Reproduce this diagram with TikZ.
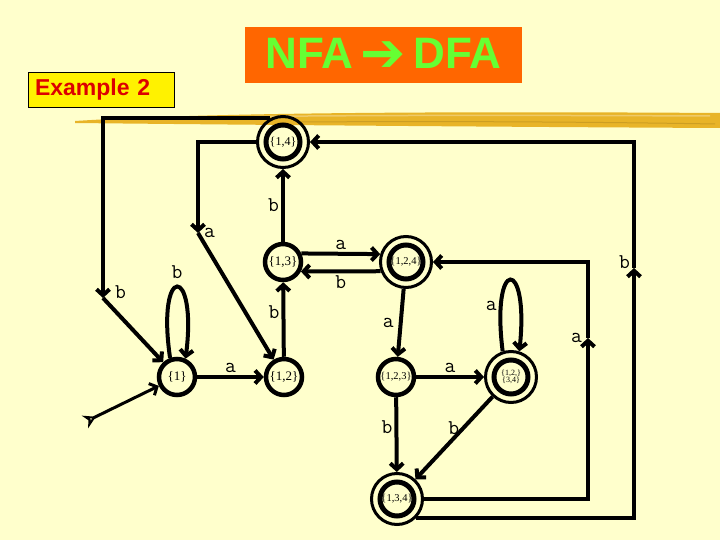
\documentclass[tikz,border=0pt]{standalone}
\usepackage{fontspec}
\setmainfont{Liberation Serif}
\newfontfamily\titlefont{Liberation Sans}
\newfontfamily\arrowfont{DejaVu Sans}
\usetikzlibrary{arrows.meta}
\definecolor{paper}{RGB}{255,255,204}
\definecolor{titlebg}{RGB}{255,102,0}
\definecolor{titlefg}{RGB}{102,255,51}
\definecolor{exred}{RGB}{220,0,0}
\definecolor{brush}{RGB}{232,180,40}

\begin{document}
\begin{tikzpicture}[x=1pt, y=-1pt,
    state/.style={circle, draw, line width=4.5pt, minimum size=36pt, inner sep=0pt, font=\fontsize{13}{13}\selectfont},
    accept/.style={circle, draw, line width=3pt, minimum size=51pt, inner sep=0pt, align=center, font=\fontsize{10.5}{10.5}\selectfont,
        path picture={\draw[line width=5pt] (path picture bounding box.center) circle[radius=17pt];}},
    trans/.style={line width=4pt, -{Straight Barb[length=6pt, width=13pt]}},
    lbl/.style={font=\ttfamily\fontsize{21}{21}\selectfont, inner sep=2pt}]

    % SFONDO
    \useasboundingbox (0,0) rectangle (720,540);
    \fill[paper] (0,0) rectangle (720,540);
    \fill[brush] (75,121) .. controls (200,113) and (420,111) .. (720,113) -- (720,128) .. controls (520,127) and (260,125) .. (75,123) -- cycle;
    \draw[brush!70!white, line width=1.5pt] (160,118) .. controls (300,115) and (500,115) .. (710,116);
    \draw[brush!80!black, line width=1pt, opacity=0.6] (300,122) .. controls (450,121) and (600,122) .. (715,124);

    % TITOLO
    \node[fill=titlebg, minimum width=277pt, minimum height=56pt, inner sep=0pt, text=titlefg,
        font=\titlefont\bfseries\fontsize{44}{44}\selectfont] (title) at (383.5,55)
        {NFA\,{\arrowfont\fontsize{54}{54}\selectfont\raisebox{-3pt}{➔}}\,DFA};
    \node[draw, line width=0.8pt, fill=yellow, minimum height=35pt, text width=132pt, inner xsep=7pt, inner ysep=0pt,
        text=exred, font=\titlefont\bfseries\fontsize{23}{23}\selectfont] (example) at (101,89.5) {Example 2};

    % STATI
    \node[state] (s1) at (177,377) {\{1\}};
    \node[state] (s12) at (284,377) {\{1,2\}};
    \node[state] (s13) at (283,262) {\{1,3\}};
    \node[accept, font=\fontsize{12}{12}\selectfont] (s14) at (283,142) {\{1,4\}};
    \node[accept] (s124) at (406,262) {\{1,2,4\}};
    \node[state, font=\fontsize{10.5}{10.5}\selectfont] (s123) at (396,377) {\{1,2,3\}};
    \node[accept, font=\fontsize{8}{8}\selectfont] (s1234) at (511,377) {\{1,2,\}\\[-1pt]\{3,4\}};
    \node[accept] (s134) at (397,499) {\{1,3,4\}};

    \coordinate (start) at (85,422);
    \coordinate (b2) at (103,298);
    \coordinate (a2) at (198,233);
    \coordinate (r3) at (588,338);
    \coordinate (q3) at (634,268);

    % TRANSIZIONI
    \draw[line width=3pt, {Stealth[open, reversed, length=12pt, width=14pt]}-{Straight Barb[length=6pt, width=13pt]}] (start) -- (s1);
    \draw[trans] (s1.110) .. controls +(-14,-95) and +(12,-95) .. (s1.65) node[lbl, pos=0.5, above=4pt] {b};
    \draw[trans] (s1) -- (s12) node[lbl, midway, above] {a};
    \draw[trans] (s12) -- (s13) node[lbl, pos=0.6, left] {b};
    \draw[trans] (s13) -- (s14) node[lbl, midway, left] {b};
    \draw[trans] (s13.25) -- (s124.163) node[lbl, midway, above] {a};
    \draw[trans] (s124.200) -- (s13.-28) node[lbl, midway, below] {b};
    \draw[trans] (s14.west) -| (a2) node[lbl, pos=1, right, xshift=2pt] {a};
    \draw[trans] (a2) -- (s12);
    \draw[trans] (s14.118) -| (b2) node[lbl, pos=1, right, xshift=8pt, yshift=6pt] {b};
    \draw[trans] (b2) -- (s1);
    \draw[trans] (s124) -- (s123) node[lbl, midway, left, xshift=-3pt] {a};
    \draw[trans] (s123) -- (s1234) node[lbl, midway, above] {a};
    \draw[trans] (s1234.108) .. controls +(-12,-95) and +(10,-95) .. (s1234.72) node[lbl, pos=0.2, left] {a};
    \draw[trans] (s123) -- (s134) node[lbl, pos=0.4, left] {b};
    \draw[trans] (s1234) -- (s134) node[lbl, pos=0.38, left] {b};
    \draw[trans] (s134.east) -| (r3) node[lbl, pos=1, left, xshift=-2pt] {a};
    \draw[trans] (r3) |- (s124.east);
    \draw[trans] (s134.-45) -| (q3) node[lbl, pos=1, left, yshift=6pt] {b};
    \draw[trans] (q3) |- (s14.east);
\end{tikzpicture}
\end{document}
